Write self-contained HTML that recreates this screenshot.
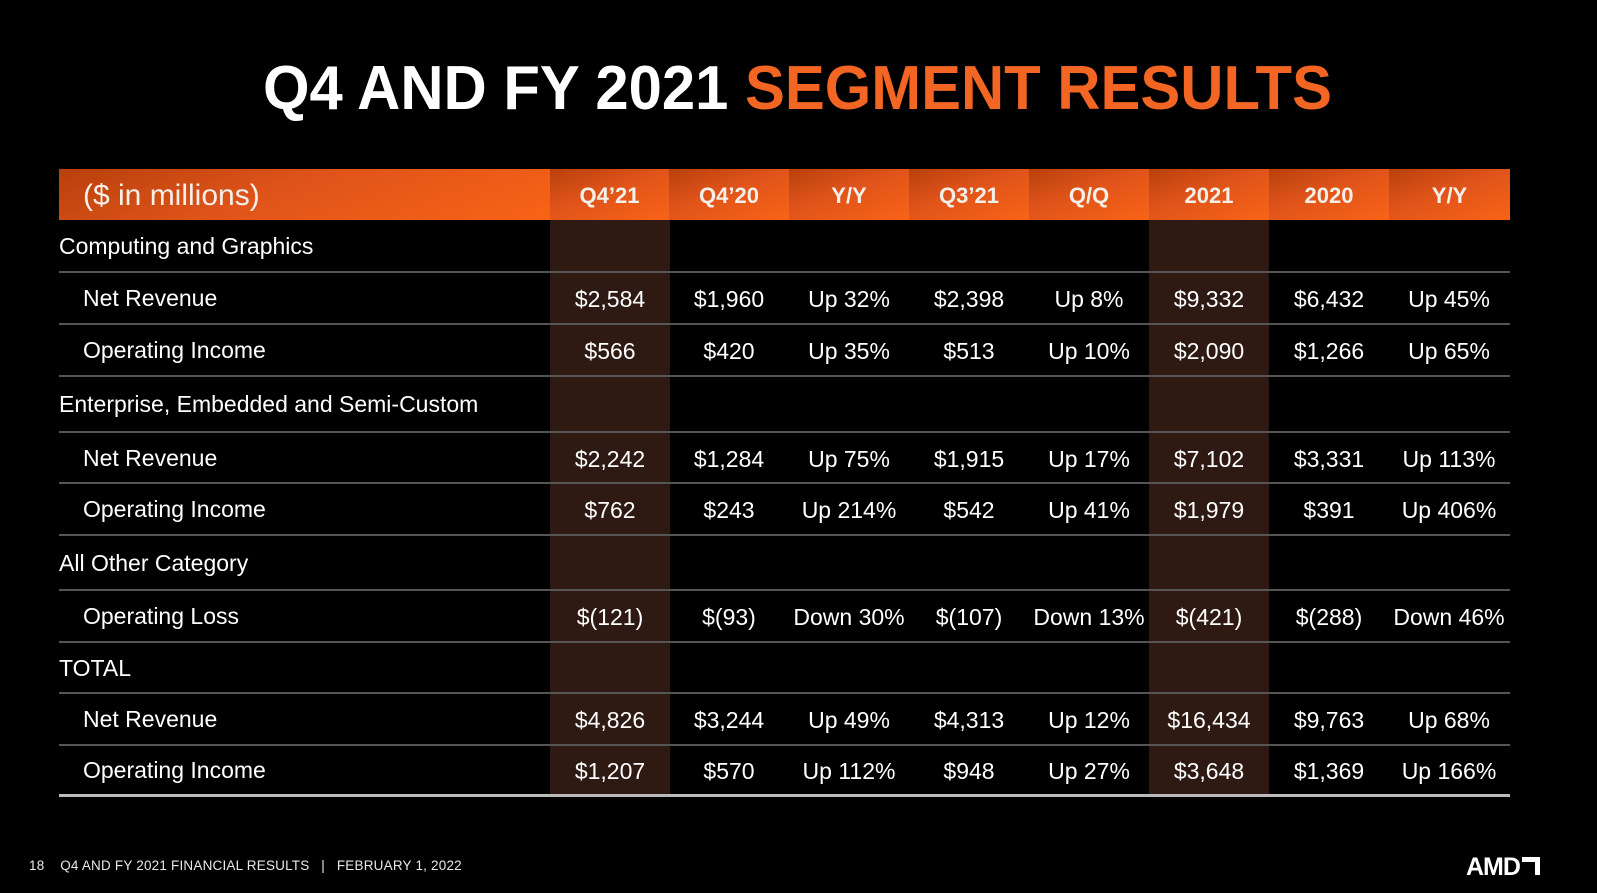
<!DOCTYPE html>
<html><head><meta charset="utf-8">
<style>
body{margin:0;background:#000;width:1597px;height:893px;overflow:hidden;position:relative;font-family:"Liberation Sans",Arial,sans-serif;color:#fff}
.abs{position:absolute}
.hdr{position:absolute;top:169px;height:51px;background:linear-gradient(160deg,#b8400c 0%,#e0541a 45%,#f86316 100%);display:flex;align-items:center;justify-content:center;font-weight:bold;font-size:22px;color:#f4efe8;padding-top:2px;box-sizing:border-box}
.hl{position:absolute;top:220px;height:575px;background:#2e1a12}
.line{position:absolute;left:59px;width:1451px;height:2px;background:#555}
.lab{position:absolute;font-size:23px;white-space:nowrap}
.cell{position:absolute;width:120px;text-align:center;font-size:23px;white-space:nowrap}
</style></head><body>
<svg class="abs" style="left:0;top:0" width="1597" height="130">
<text x="263" y="109" textLength="1069" lengthAdjust="spacingAndGlyphs" font-family="Liberation Sans, Arial, sans-serif" font-weight="bold" font-size="62" fill="#fff">Q4 AND FY 2021 <tspan fill="#f26522">SEGMENT RESULTS</tspan></text>
</svg>

<div class="hdr" style="left:59px;width:491px;justify-content:flex-start;padding-left:24px;font-weight:normal;font-size:30px">($ in millions)</div>
<div id="hdrs"></div>
<div id="tbl"></div>

<div class="abs" style="left:29px;top:858px;font-size:13.5px;color:#e8e8e8;white-space:nowrap;letter-spacing:0.2px">18&nbsp;&nbsp;&nbsp;&nbsp;Q4 AND FY 2021 FINANCIAL RESULTS&nbsp;&nbsp;&nbsp;|&nbsp;&nbsp;&nbsp;FEBRUARY 1, 2022</div>
<div class="abs" style="left:1466px;top:853px;font-size:25px;font-weight:bold;letter-spacing:-1px;white-space:nowrap">AMD<span style="display:inline-block;width:18px;height:18px;border-top:5px solid #fff;border-right:5px solid #fff;box-sizing:border-box;margin-left:2px"></span></div>

<script>
const colStarts=[550,669,789,909,1029,1149,1269,1389];
const headers=["Q4\u201921","Q4\u201920","Y/Y","Q3\u201921","Q/Q","2021","2020","Y/Y"];
const rowTops=[220,272,324,376,432,483,535,590,642,693,745,795];
const labels=["Computing and Graphics","Net Revenue","Operating Income","Enterprise, Embedded and Semi-Custom","Net Revenue","Operating Income","All Other Category","Operating Loss","TOTAL","Net Revenue","Operating Income"];
const indent=[0,1,1,0,1,1,0,1,0,1,1];
const values=[
null,
["$2,584","$1,960","Up 32%","$2,398","Up 8%","$9,332","$6,432","Up 45%"],
["$566","$420","Up 35%","$513","Up 10%","$2,090","$1,266","Up 65%"],
null,
["$2,242","$1,284","Up 75%","$1,915","Up 17%","$7,102","$3,331","Up 113%"],
["$762","$243","Up 214%","$542","Up 41%","$1,979","$391","Up 406%"],
null,
["$(121)","$(93)","Down 30%","$(107)","Down 13%","$(421)","$(288)","Down 46%"],
null,
["$4,826","$3,244","Up 49%","$4,313","Up 12%","$16,434","$9,763","Up 68%"],
["$1,207","$570","Up 112%","$948","Up 27%","$3,648","$1,369","Up 166%"]
];
const H=document.getElementById('hdrs');
headers.forEach((h,i)=>{
  const d=document.createElement('div');d.className='hdr';
  d.style.left=colStarts[i]+'px';d.style.width=((i<7?colStarts[i+1]:1510)-colStarts[i])+'px';
  d.textContent=h;
  
  
  H.appendChild(d);
});
const T=document.getElementById('tbl');
[0,5].forEach(i=>{
  const d=document.createElement('div');d.className='hl';
  d.style.left=colStarts[i]+'px';d.style.width='120px';
  
  
  T.appendChild(d);
});
labels.forEach((l,r)=>{
  const top=rowTops[r],h=rowTops[r+1]-top;
  const lab=document.createElement('div');lab.className='lab';
  lab.style.left=(indent[r]?83:59)+'px';lab.style.top=(top+h/2-13)+'px';
  lab.textContent=l;
  
  
  T.appendChild(lab);
  if(values[r]) values[r].forEach((v,c)=>{
    const e=document.createElement('div');e.className='cell';
    e.style.left=colStarts[c]+'px';e.style.top=(top+h/2-12)+'px';
    e.textContent=v;
    
    
    T.appendChild(e);
  });
  const ln=document.createElement('div');ln.className='line';
  const last=r===labels.length-1;
  ln.style.top=(rowTops[r+1]-1)+'px';
  if(last){ln.style.height='3px';ln.style.background='#bbb';}
  
  
  T.appendChild(ln);
});
</script>
</body></html>
